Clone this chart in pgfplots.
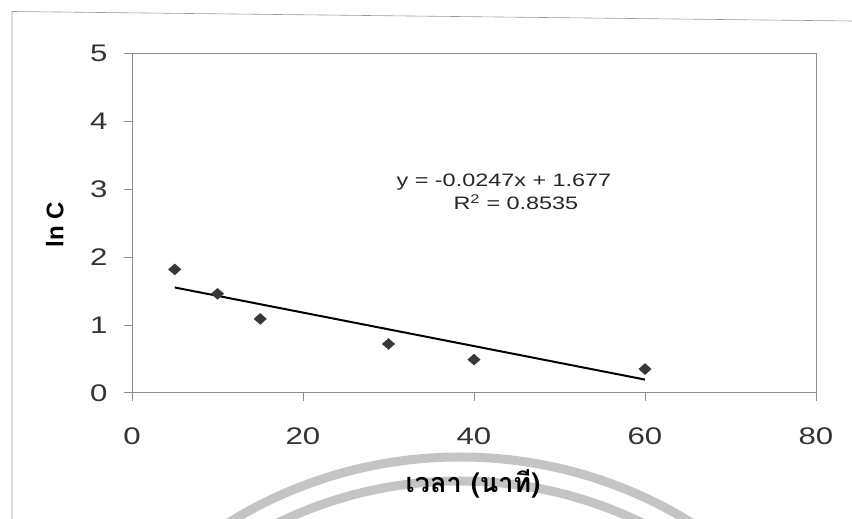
\documentclass[border=0pt]{standalone}
\usepackage{pgfplots}
\pgfplotsset{compat=1.18}
\usepackage{fontspec}
\setmainfont{Liberation Sans}
\newfontfamily\thaifont[Script=Thai]{Loma}
\newfontfamily\wide[FakeStretch=1.3]{Liberation Sans}
\begin{document}
\begin{tikzpicture}[x=1pt,y=1pt]
\path[use as bounding box] (0,0) rectangle (852,519);
\begin{scope}
\clip (0,0) rectangle (852,519);
\draw[line width=9pt, black!23] (460,-378) circle[radius=440];
\draw[line width=9pt, black!23] (460,-378) circle[radius=416];
\end{scope}
\draw[black!40, line width=0.6pt] (12,0) -- (12,507.5) -- (852,498);
\begin{axis}[
  at={(132pt,126.2pt)}, anchor=south west,
  scale only axis, width=684pt, height=339pt,
  xmin=0, xmax=80, ymin=0, ymax=5,
  xtick={0,20,40,60,80}, ytick={0,1,2,3,4,5},
  axis line style={black!45, line width=0.6pt},
  tick style={black!45, line width=0.6pt},
  tick align=outside, major tick length=8pt, tick pos=left,
  /pgf/number format/assume math mode=true,
  ticklabel style={font=\wide\fontsize{24}{24}\selectfont, text=black!80},
  xticklabel style={yshift=-23pt},
  yticklabel style={xshift=-13pt},
  every axis y label/.style={at={(axis description cs:-0.113,0.495)}, rotate=90, anchor=center},
  every axis x label/.style={at={(axis description cs:0.4985,-0.269)}, anchor=center},
  ylabel={\bfseries\fontsize{24}{24}\selectfont ln C},
  xlabel={\thaifont\bfseries\fontsize{27}{27}\selectfont เวลา (นาที)},
  clip=false,
]
\addplot[only marks, mark=diamond*, mark size=5.5pt,
  mark options={xscale=1.5, fill=black!78, draw=black!78}]
  coordinates {(5,1.82) (10,1.46) (15,1.09) (30,0.72) (40,0.49) (60,0.35)};
\addplot[black, line width=2pt] coordinates {(5,1.5535) (60,0.195)};
\node[font=\wide\fontsize{18}{18}\selectfont, text=black!85] at (axis cs:43.5,3.11) {y = -0.0247x + 1.677};
\node[font=\wide\fontsize{18}{18}\selectfont, text=black!85] at (axis cs:44.9,2.81) {R\textsuperscript{2} = 0.8535};
\end{axis}
\end{tikzpicture}
\end{document}
